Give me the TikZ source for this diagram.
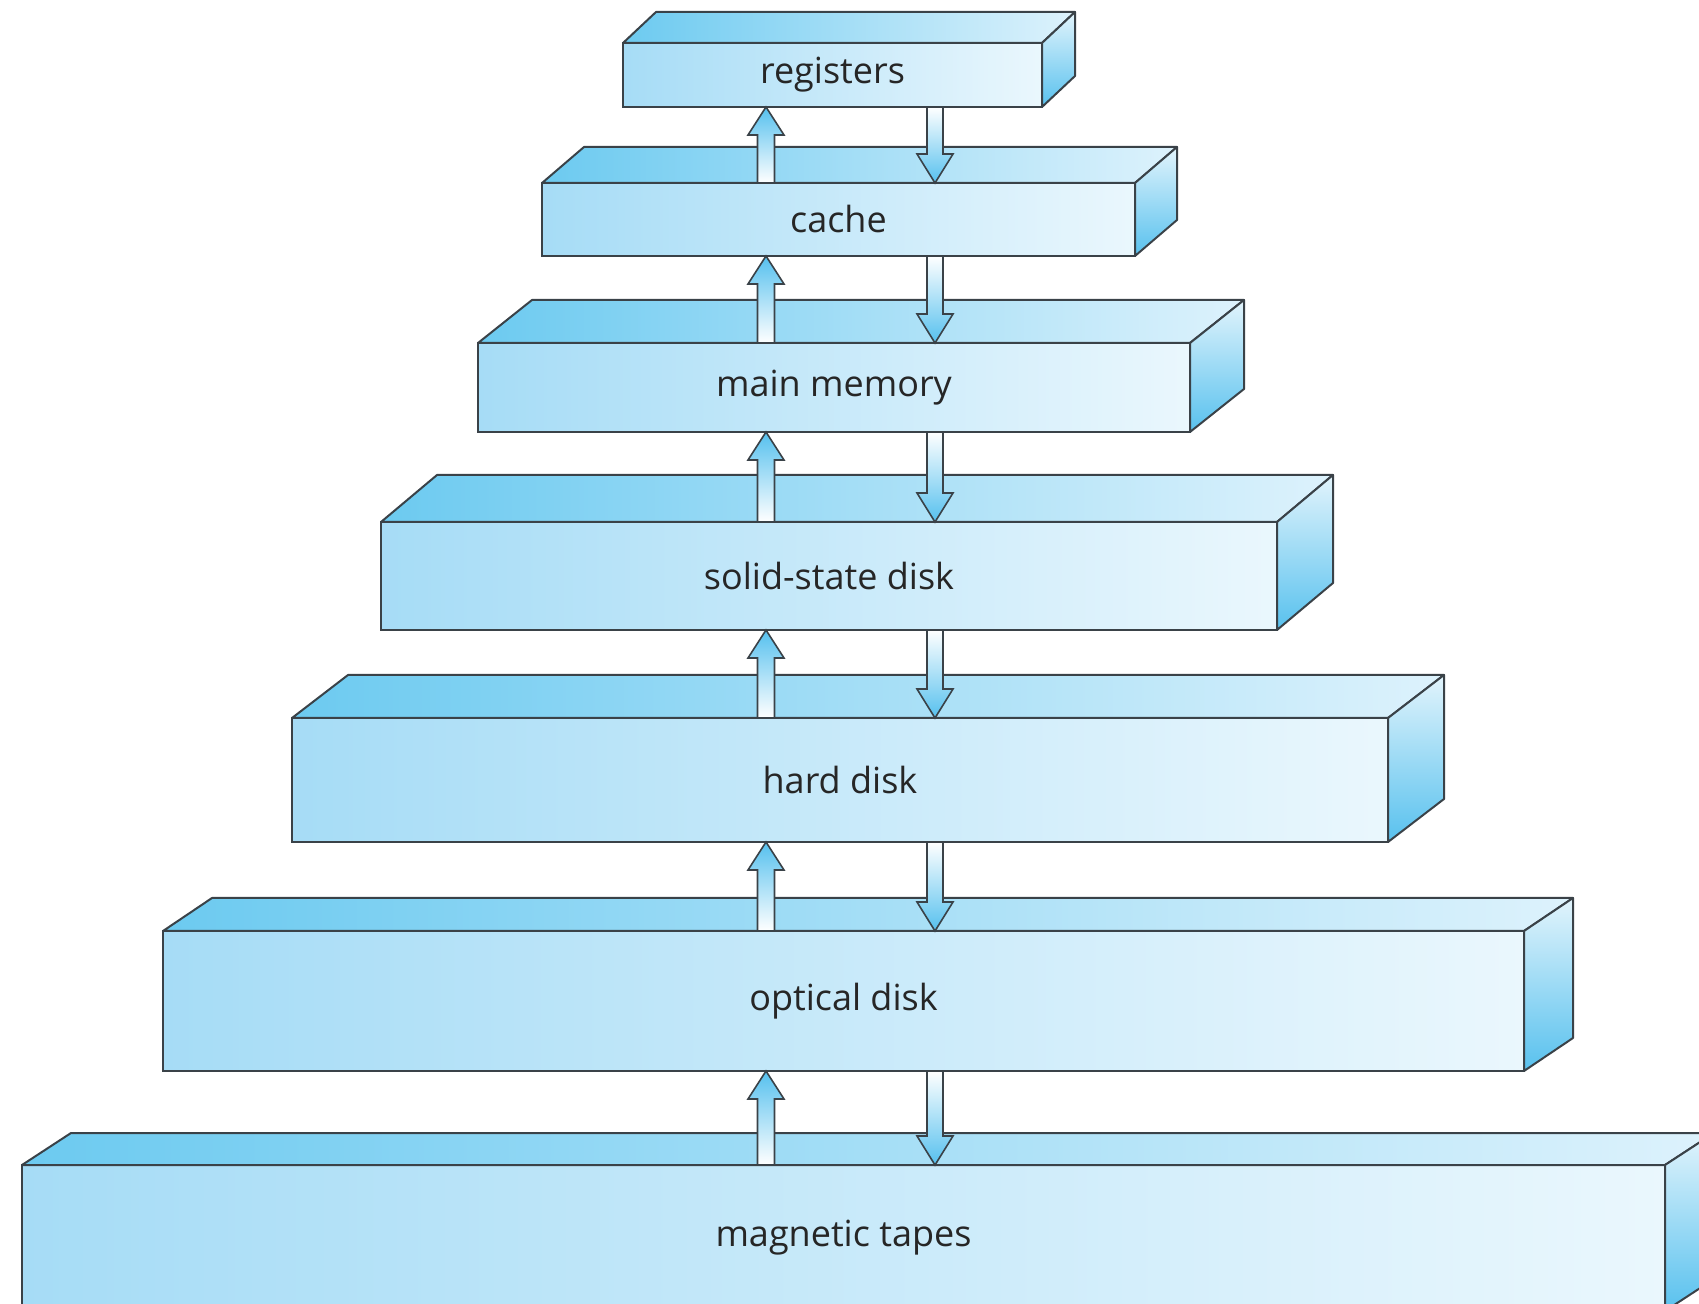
\documentclass[tikz,border=0pt]{standalone}
\usepackage{fontspec}
\setsansfont{Open Sans}
\usepackage{tikz}
\usetikzlibrary{positioning, calc}
\definecolor{frontleft}{HTML}{A6DCF6}
\definecolor{frontright}{HTML}{EAF7FD}
\definecolor{topleft}{HTML}{6CCAF0}
\definecolor{topright}{HTML}{DDF2FC}
\definecolor{sidetop}{HTML}{E2F4FC}
\definecolor{sidebottom}{HTML}{58C1EE}
\definecolor{edge}{HTML}{3A4248}
\definecolor{arrowblue}{HTML}{55C0EE}
\tikzset{
    tier/.style={rectangle, draw=edge, line width=1pt, left color=frontleft, right color=frontright, outer sep=0pt, inner sep=0pt, text=black!85, font=\sffamily\fontsize{18}{22}\selectfont},
    topface/.style={draw=edge, line width=1pt, line join=round, left color=topleft, right color=topright},
    sideface/.style={draw=edge, line width=1pt, line join=round, top color=sidetop, bottom color=sidebottom},
    fatarrow/.style={draw=edge, line width=0.8pt, line join=miter}
}

\begin{document}
\begin{tikzpicture}[x=0.5pt, y=-0.5pt]
        \useasboundingbox (0,0) rectangle (1699,1304);
        \clip (0,0) rectangle (1699,1304);

        % Levels, fastest on top
        \node [tier, minimum width=209.5pt, minimum height=32pt] (registers) at (832.5,75) {registers};
        \node [tier, minimum width=296.5pt, minimum height=36.5pt, below=38pt of registers, xshift=3pt] (cache) {cache};
        \node [tier, minimum width=356pt, minimum height=44.5pt, below=43.5pt of cache, xshift=-2.25pt] (mainmem) {main memory};
        \node [tier, minimum width=448pt, minimum height=54pt, below=45pt of mainmem, xshift=-2.5pt] (ssd) {solid-state disk};
        \node [tier, minimum width=548pt, minimum height=62pt, below=44pt of ssd, xshift=5.5pt] (hdd) {hard disk};
        \node [tier, minimum width=680.5pt, minimum height=70pt, below=44.5pt of hdd, xshift=1.75pt] (optical) {optical disk};
        \node [tier, minimum width=821.5pt, minimum height=73pt, below=47pt of optical] (tapes) {magnetic tapes};

        % Top and side faces
        \foreach \lvl/\dx/\dy in {registers/33/31, cache/42/36, mainmem/54/43, ssd/56/47, hdd/56/43, optical/49/33, tapes/49/32}{
            \path [topface] (\lvl.north west) -- ++(\dx,-\dy) -- ($(\lvl.north east)+(\dx,-\dy)$) -- (\lvl.north east) -- cycle;
            \path [sideface] (\lvl.north east) -- ++(\dx,-\dy) -- ($(\lvl.south east)+(\dx,-\dy)$) -- (\lvl.south east) -- cycle;
        }

        % Transfers between levels
        \coordinate (upx) at (766,0);
        \coordinate (dnx) at (935,0);
        \foreach \hi/\lo in {registers/cache, cache/mainmem, mainmem/ssd, ssd/hdd, hdd/optical, optical/tapes}{
            \coordinate (s) at (\lo.north -| upx);
            \coordinate (e) at (\hi.south -| upx);
            \path [fatarrow, top color=arrowblue, bottom color=white] ($(s)+(-8.5,0)$) -- ($(e)+(-8.5,28)$) -- ($(e)+(-18,28)$) -- (e) -- ($(e)+(18,28)$) -- ($(e)+(8.5,28)$) -- ($(s)+(8.5,0)$) -- cycle;
            \coordinate (s) at (\hi.south -| dnx);
            \coordinate (e) at (\lo.north -| dnx);
            \path [fatarrow, top color=white, bottom color=arrowblue] ($(s)+(-8,0)$) -- ($(e)+(-8,-29)$) -- ($(e)+(-18,-29)$) -- (e) -- ($(e)+(18,-29)$) -- ($(e)+(8,-29)$) -- ($(s)+(8,0)$) -- cycle;
        }

    \end{tikzpicture}
\end{document}
